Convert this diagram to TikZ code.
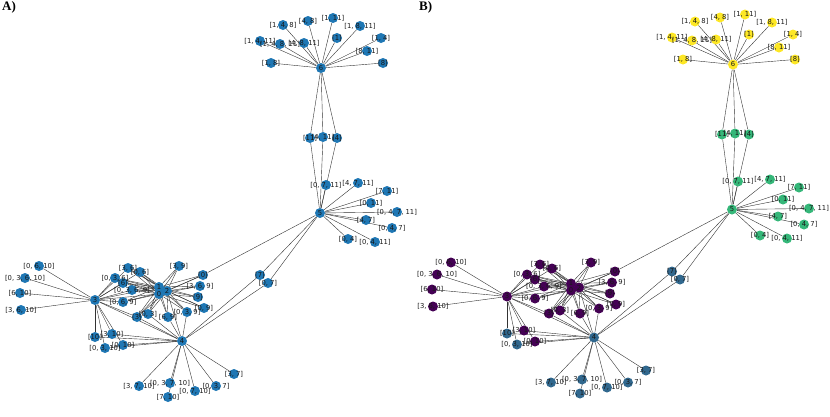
\documentclass[tikz,border=0pt]{standalone}
\usepackage{fontspec}
\newfontfamily\lblfont{DejaVu Sans}
\newfontfamily\panelfont{Liberation Serif}
\usetikzlibrary{backgrounds}
\definecolor{mplblue}{HTML}{1F77B4}
\definecolor{viryellow}{HTML}{FDE725}
\definecolor{virgreen}{HTML}{35B779}
\definecolor{virblue}{HTML}{31688E}
\definecolor{virpurple}{HTML}{440154}
\tikzset{vtx/.style={circle,fill=col#1,inner sep=0pt,minimum size=10pt},lbl/.style={font=\lblfont\fontsize{6.8}{7}\selectfont,inner sep=0pt,text=black!90},edge/.style={draw=black!80,line width=0.4pt},panel/.style={font=\panelfont\bfseries\fontsize{13}{14}\selectfont,anchor=north west,inner sep=0pt}}
% name/x/y/text/group
\def\nodelist{{n6/321/68/6/y},{a1/283/25/[1, 4, 8]/y},{a2/308/21/[4, 8]/y},{a3/333/18/[1, 11]/y},{a4/360/26/[1, 8, 11]/y},{a5/260/41/[1, 4, 11]/y},{a6/280/44/[1, 4, 8, 11]/y},{a7/304/43/[4, 8, 11]/y},{a8/337/38/[1]/y},{a9/381/38/[1, 4]/y},{a10/367/51/[8, 11]/y},{a11/271/63/[1, 8]/y},{a12/383/63/[8]/y},
{n5/320/213/5/g},{m1/310/138/[11]/g},{m2/323/137/[4, 11]/g},{m3/337/138/[4]/g},{b1/326/185/[0, 7, 11]/g},{b2/358/183/[4, 7, 11]/g},{b3/387/191/[7, 11]/g},{b4/371/203/[0, 11]/g},{b5/397/212/[0, 4, 7, 11]/g},{b6/366/220/[4, 7]/g},{b7/392/228/[0, 4, 7]/g},{b8/348/239/[0, 4]/g},{b9/375/242/[0, 4, 11]/g},
{n4/182/341/4/b},{c1/139/386/[3, 7, 10]/b},{c2/170/383/[0, 3, 7, 10]/b},{c3/168/397/[7, 10]/b},{c4/195/391/[0, 7, 10]/b},{c5/216/386/[0, 3, 7]/b},{c6/234/374/[3, 7]/b},{k1/260/275/[7]/b},{k2/268/283/[0, 7]/b},{e1/95/337/[10]/b},{e3/105/348/[0, 3, 10]/b},
{e2/112/334/[3, 10]/p},{e4/123/345/[0, 10]/p},{n3/95/300/3/p},{d1/39/266/[0, 6, 10]/p},{d2/25/278/[0, 3, 6, 10]/p},{d3/20/293/[6, 10]/p},{d4/21/310/[3, 6, 10]/p},
{q1/128/268/[3, 6]/p},{q2/140/272/[0, 6]/p},{q3/115/278/[0, 3, 6]/p},{q4/123/283/[6]/p},{q5/132/290/[0, 3, 6, 9]/p},{q6/123/302/[0, 6, 9]/p},{q7/179/266/[3, 9]/p},{q8/203/275/[0]/p},{q9/200/286/[3, 6, 9]/p},{q10/198/297/[9]/p},{q11/204/308/[0, 9]/p},{q12/168/317/[6, 9]/p},{q13/187/312/[0, 3, 9]/p},{q14/137/317/[3]/p},{q15/148/314/[0, 3]/p},
{n1/159/287/1/p},{n0/159/294/0/p},{n2/167/291/2/p}}
\newcommand\drawgraph[1]{%
\foreach \n/\x/\y/\t/\g in \nodelist {\node[vtx=\g] (#1\n) at (\x,\y) {};}
\begin{scope}[on background layer]
\foreach \i in {1,...,12} {\draw[edge] (#1n6)--(#1a\i);}
\foreach \i in {1,2,3} {\draw[edge] (#1n6)--(#1m\i);\draw[edge] (#1m\i)--(#1n5);}
\foreach \i in {1,...,9} {\draw[edge] (#1n5)--(#1b\i);}
\foreach \v in {q8,k1,k2} {\draw[edge] (#1n5)--(#1\v);}
\foreach \v in {c1,c2,c3,c4,c5,c6,k1,k2,e1,e2,e3,e4,n3,q12,q13,q14,q15,n2} {\draw[edge] (#1n4)--(#1\v);}
\foreach \v in {d1,d2,d3,d4,e1,e2,e3,e4,q1,q2,q3,q4,q5,q6,q14,n0,n1} {\draw[edge] (#1n3)--(#1\v);}
\foreach \h in {n0,n1,n2} {\foreach \i in {1,...,15} {\draw[edge] (#1\h)--(#1q\i);}}
\end{scope}
\foreach \n/\x/\y/\t/\g in \nodelist {\node[lbl] (#1\n t) at (#1\n) {\t};}
}

\begin{document}
\begin{tikzpicture}[x=1pt,y=-1pt]
\useasboundingbox (0,0) rectangle (830,416);
\begin{scope}
\colorlet{coly}{mplblue}\colorlet{colg}{mplblue}\colorlet{colb}{mplblue}\colorlet{colp}{mplblue}
\drawgraph{A}
\end{scope}
\begin{scope}[shift={(412,-3.5)}]
\colorlet{coly}{viryellow}\colorlet{colg}{virgreen}\colorlet{colb}{virblue}\colorlet{colp}{virpurple}
\drawgraph{B}
\end{scope}
\node[panel] (ta) at (2,1) {A)};
\node[panel] (tb) at (419,1) {B)};
\end{tikzpicture}
\end{document}
